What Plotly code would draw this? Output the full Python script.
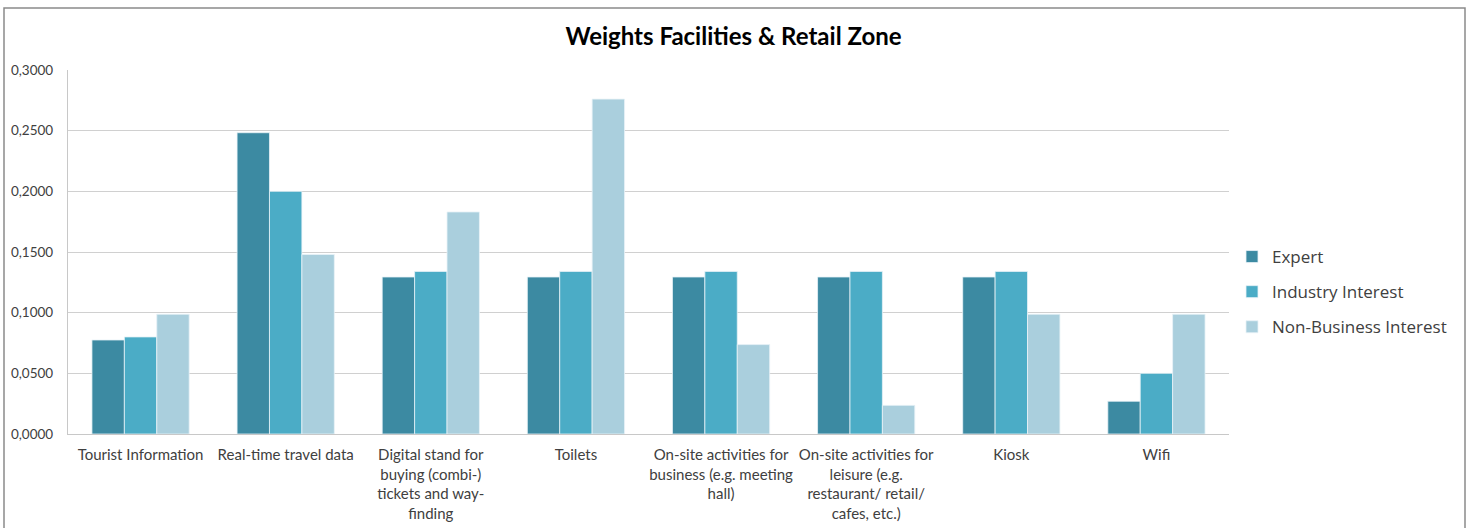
import plotly.graph_objects as go

categories = [
    "Tourist Information",
    "Real-time travel data",
    "Digital stand for<br>buying (combi-)<br>tickets and way-<br>finding",
    "Toilets",
    "On-site activities for<br>business (e.g. meeting<br>hall)",
    "On-site activities for<br>leisure (e.g.<br>restaurant/ retail/<br>cafes, etc.)",
    "Kiosk",
    "Wifi",
]
expert = [0.0775, 0.2483, 0.1294, 0.1294, 0.1294, 0.1294, 0.1294, 0.0270]
industry = [0.0800, 0.2000, 0.1340, 0.1340, 0.1340, 0.1340, 0.1340, 0.0500]
non_business = [0.0987, 0.1480, 0.1830, 0.2760, 0.0737, 0.0236, 0.0987, 0.0987]

series_names = ["Expert", "Industry Interest", "Non-Business Interest"]
colors = ["#3C8AA2", "#4BACC6", "#AACFDD"]

W, H = 1467, 528
L, R, T, B = 68, 1229, 70, 434

fig = go.Figure()
for name, vals, col in zip(series_names, [expert, industry, non_business], colors):
    fig.add_trace(go.Bar(
        x=categories, y=vals, name=name, legendgroup=name,
        marker=dict(color=col, line=dict(color="#E8F3F7", width=0.8)),
    ))

def px_x(p):
    return (p - L) / (R - L)

def px_y(p):
    return (B - p) / (B - T)

fig.update_layout(
    width=W, height=H,
    margin=dict(l=L, r=W - R, t=T, b=H - B, autoexpand=False),
    paper_bgcolor="white", plot_bgcolor="white",
    separators=",.",
    barmode="group", bargap=0.33, bargroupgap=0,
    title=dict(text="<b>Weights Facilities &amp; Retail Zone</b>", x=0.5, xanchor="center",
               y=1 - 37 / H, yanchor="middle",
               font=dict(family="Lato, Open Sans, sans-serif", size=24, color="#000000")),
    font=dict(family="Lato, Open Sans, sans-serif", color="#404040"),
    xaxis=dict(showgrid=False, showline=True, linecolor="#C8C8C8", linewidth=1.2,
               ticks="", tickfont=dict(size=15, color="#404040"), tickangle=0,
               ticklabelstandoff=7),
    yaxis=dict(range=[0, 0.3], dtick=0.05, tickformat=".4f", showgrid=True,
               gridcolor="#D0D0D0", gridwidth=1.2, showline=True, linecolor="#C8C8C8",
               linewidth=1.2, zeroline=False, ticks="",
               tickfont=dict(size=13.5, color="#404040"), ticklabelstandoff=11),
    legend=dict(x=px_x(1232), xanchor="left", y=px_y(292), yanchor="middle",
                font=dict(family="Open Sans, sans-serif", size=17, color="#404040"),
                itemwidth=30, tracegroupgap=10, bgcolor="rgba(0,0,0,0)"),
    shapes=[dict(type="rect", xref="paper", yref="paper",
                 x0=px_x(4), x1=px_x(1465), y0=px_y(560), y1=px_y(8),
                 line=dict(color="#8A8A8A", width=1.5), fillcolor="rgba(0,0,0,0)",
                 layer="below")],
)

fig.write_html("out.html")
